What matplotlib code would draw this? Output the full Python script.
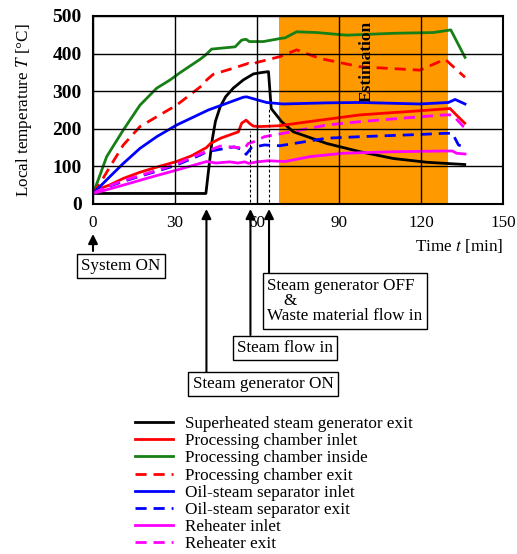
# Temperature history of the superheated steam system

import numpy as np
import matplotlib
matplotlib.use("Agg")
import matplotlib.pyplot as plt

plt.rcParams["font.family"] = ["Liberation Serif", "DejaVu Serif"]
plt.rcParams["mathtext.fontset"] = "stix"

# %% Data (time in min, temperature in degC)

t_sg = [0, 41.3, 42.6, 43.6, 44.8, 46.5, 48.5, 51.3, 55, 58.7, 62, 64.2, 65.2, 69, 73.3, 85.5, 97.7, 109.9, 122.1, 136]
T_sg = [28, 28, 110, 170, 220, 258, 285, 308, 330, 346, 350, 352, 254, 219, 192, 161, 139, 121, 111, 105]

t_pc_in = [0, 3, 6.2, 11.1, 17, 23.3, 30.6, 36, 41.5, 43, 46.7, 53.2, 54.4, 56, 57.5, 58.7, 61, 68, 80, 97.7, 119.6, 130.6, 132.9, 136]
T_pc_in = [28, 42, 51, 68, 84, 98, 113, 128, 150, 161, 175, 192, 215, 223, 213, 207, 206, 208, 220, 237, 248, 254, 237, 215]

t_pc_mid = [0, 1.9, 5, 11.1, 17.2, 23.3, 28.2, 32, 39.2, 41, 43.4, 52, 54.4, 56, 57.2, 62.3, 68.4, 70.3, 74.5, 81.8, 92.8, 109.9, 124.5, 130.9, 136.1]
T_pc_mid = [28, 64, 126, 197, 263, 308, 330, 350, 385, 395, 412, 418, 436, 438, 432, 432, 440, 442, 458, 456, 449, 454, 456, 463, 390]

t_pc_out = [0, 3, 6.2, 11.1, 17.2, 23.3, 30.6, 40.4, 41.6, 44, 51.3, 56.8, 58.5, 59.7, 63.5, 68.4, 74.5, 83, 97.7, 119.6, 128.8, 136.1]
T_pc_out = [28, 60, 99, 157, 206, 232, 263, 318, 330, 345, 361, 374, 370, 376, 383, 392, 410, 387, 365, 356, 385, 337]

t_os_in = [0, 6.2, 11.1, 17.2, 23.3, 30.6, 42.2, 55, 56.2, 63.5, 69.6, 85.5, 97.7, 119.6, 130, 132.5, 136.1]
T_os_in = [28, 73, 108, 148, 179, 210, 250, 284, 285, 270, 266, 269, 270, 266, 270, 278, 266]

t_os_out = [0, 5, 11, 20, 30, 39.2, 41.6, 51.6, 55, 56, 58, 62.7, 68.4, 85.5, 97.7, 119.6, 128.8, 131.5, 133.7, 136.1]
T_os_out = [28, 45, 60, 80, 102, 130, 139, 152, 144, 132, 150, 157, 155, 175, 179, 185, 188, 188, 157, 151]

t_rh_in = [0, 10, 20, 30, 41.6, 45, 50, 53, 55.5, 57, 60, 64, 70.3, 79.4, 91.5, 109.9, 128.8, 131.5, 133, 136.1]
T_rh_in = [28, 48, 69, 89, 113, 109, 112, 109, 112, 108, 112, 115, 113, 126, 135, 139, 141, 141, 135, 133]

t_rh_out = [0, 5, 11, 20, 30, 39.2, 46.5, 53.5, 55.5, 56.8, 59, 62.7, 69.6, 85.5, 97.7, 119.6, 128.8, 131.5, 135.5, 136.1]
T_rh_out = [28, 46, 62, 82, 105, 133, 154, 150, 148, 161, 166, 179, 188, 210, 219, 232, 237, 237, 206, 203]

labels = ["Superheated steam generator exit", "Processing chamber inlet",
          "Processing chamber inside", "Processing chamber exit",
          "Oil-steam separator inlet", "Oil-steam separator exit",
          "Reheater inlet", "Reheater exit"]

est_start, est_end = 68, 130
t_events = [0, 41.5, 57.6, 64.4]

# %% Plotting

W, H = 517, 554
fs = 12.3
fig = plt.figure(figsize=(W / 100, H / 100), dpi=100)
ax = fig.add_axes([93 / W, 1 - 204 / H, 410 / W, 188 / H])

dash = (0, (4, 2.5))
lw = 2.0
ax.axvspan(est_start, est_end, color="#FF9900", lw=0, zorder=0)
ax.text(100, 380, "Estimation", rotation=90, ha="center", va="center",
        fontsize=12.5, fontweight="bold", zorder=5)

ax.plot(t_sg, T_sg, "-", color="black", lw=lw, label=labels[0])
ax.plot(t_pc_in, T_pc_in, "-", color="red", lw=lw, label=labels[1])
ax.plot(t_pc_mid, T_pc_mid, "-", color="#168016", lw=lw, label=labels[2])
ax.plot(t_pc_out, T_pc_out, ls=dash, color="red", lw=lw, label=labels[3])
ax.plot(t_os_in, T_os_in, "-", color="blue", lw=lw, label=labels[4])
ax.plot(t_os_out, T_os_out, ls=dash, color="blue", lw=lw, label=labels[5])
ax.plot(t_rh_in, T_rh_in, "-", color="magenta", lw=lw, label=labels[6])
ax.plot(t_rh_out, T_rh_out, ls=dash, color="magenta", lw=lw, label=labels[7])

ax.plot([t_events[2]] * 2, [5, 195], color="black", lw=0.8, ls=(0, (2.5, 2)))
ax.plot([t_events[3]] * 2, [5, 252], color="black", lw=0.8, ls=(0, (2.5, 2)))

ax.set_xlim(0, 150)
ax.set_ylim(0, 500)
ax.set_xticks([0, 30, 60, 90, 120, 150])
ax.set_yticks([0, 100, 200, 300, 400, 500])
ax.grid(color="black", lw=1)
ax.set_axisbelow(False)
ax.tick_params(length=0, pad=8)
ax.tick_params(axis="x", labelsize=fs)
ax.tick_params(axis="y", labelsize=14)
for lab in ax.get_yticklabels():
    lab.set_fontweight("bold")
for s in ax.spines.values():
    s.set_linewidth(1.5)

ax.set_ylabel("Local temperature $T$ [°C]", fontsize=fs, labelpad=13)
fig.text(503 / W, 1 - 246 / H, "Time $t$ [min]", ha="right", va="center", fontsize=fs)

# event arrows and boxes (y in figure pixels from top)
def arrow(t, y0, y1):
    ax.annotate("", xy=(t, H - y1), xycoords=("data", "figure pixels"),
                xytext=(t, H - y0), textcoords=("data", "figure pixels"),
                arrowprops=dict(arrowstyle="-|>", color="black", lw=1.5,
                                mutation_scale=14, shrinkA=0, shrinkB=0),
                annotation_clip=False)

arrow(t_events[0], 251, 234)
arrow(t_events[1], 372, 209)
arrow(t_events[2], 335, 209)
arrow(t_events[3], 273, 209)

box = dict(boxstyle="square,pad=0.25", fc="white", ec="black", lw=1)
fig.text(121 / W, 1 - 266 / H, "System ON", ha="center", va="center", fontsize=fs, bbox=box)
fig.text(263 / W, 1 - 384 / H, "Steam generator ON", ha="center", va="center", fontsize=fs, bbox=box)
fig.text(285 / W, 1 - 348 / H, "Steam flow in", ha="center", va="center", fontsize=fs, bbox=box)
fig.text(267 / W, 1 - 301 / H, "Steam generator OFF\n    &\nWaste material flow in",
         ha="left", va="center", fontsize=fs, linespacing=0.95, bbox=box)

fig.legend(loc="upper left", bbox_to_anchor=(135 / W, 1 - 416 / H),
           bbox_transform=fig.transFigure, frameon=False, fontsize=fs,
           handlelength=2.25, handletextpad=0.7, labelspacing=0.07,
           borderpad=0, borderaxespad=0)

plt.savefig("out.png", dpi=100)
